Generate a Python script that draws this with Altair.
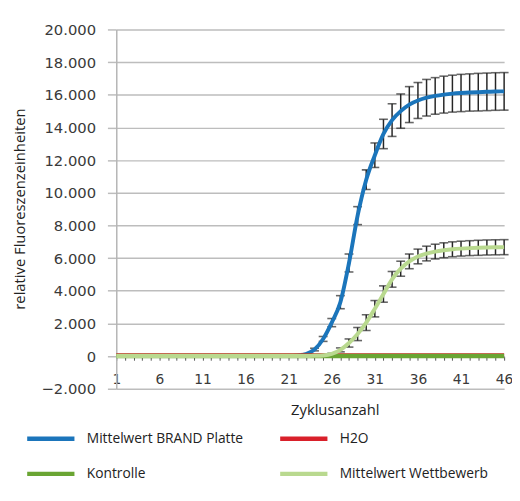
import altair as alt
import pandas as pd

cycles = list(range(1, 47))

brand = [0]*21 + [20, 120, 400, 1050, 2050, 3300, 5700, 8600, 10800, 12300, 13600, 14450, 15000,
                  15400, 15650, 15820, 15930, 16010, 16070, 16110, 16140, 16160, 16180, 16200, 16210]
brand_err = [0]*21 + [0, 30, 80, 150, 250, 400, 550, 550, 600, 750, 900, 1000, 1050,
                      1100, 1100, 1120, 1120, 1130, 1130, 1140, 1140, 1150, 1150, 1150, 1150]

wett = [0]*23 + [15, 40, 130, 380, 800, 1350, 2050, 2900, 3800, 4700, 5350, 5800, 6100, 6280,
                 6400, 6480, 6540, 6580, 6610, 6630, 6650, 6660, 6670]
wett_err = [0]*25 + [40, 120, 250, 400, 480, 500, 500, 480, 460, 450, 450, 450,
                     450, 455, 455, 455, 455, 460, 460, 460, 460]

kontrolle = [0]*46
h2o = [90]*46

series = ["Mittelwert BRAND Platte", "H2O", "Kontrolle", "Mittelwert Wettbewerb"]
colors = ["#1b75bb", "#d9202a", "#6aa533", "#b9d98f"]
widths = [4, 3, 4.5, 4]

rows = []
for name, vals in zip(series, [brand, h2o, kontrolle, wett]):
    for c, v in zip(cycles, vals):
        rows.append({"Zyklus": c, "Wert": v, "Serie": name})
df = pd.DataFrame(rows)

err_rows = []
for vals, errs in [(brand, brand_err), (wett, wett_err)]:
    for c, v, e in zip(cycles, vals, errs):
        if e > 0:
            err_rows.append({"Zyklus": c, "Wert": v - e, "hi": v + e})
edf = pd.DataFrame(err_rows)

color_scale = alt.Scale(domain=series, range=colors)

xscale = alt.Scale(domain=[1, 46], nice=False, zero=False)
yscale = alt.Scale(domain=[-2000, 20000], nice=False)

x_axis = alt.Axis(
    title="Zyklusanzahl", values=cycles,
    labelExpr="(datum.value - 1) % 5 == 0 ? datum.value : ''",
    offset=-33, grid=False, tickSize=4, tickColor="#555555", tickWidth=1,
    domainColor="#b5b5b5", domainWidth=1.5,
    labelPadding=13, labelFontSize=14, labelColor="#3a3a3a", labelFont="DejaVu Sans",
    labelFlush=False, labelOverlap=False, labelBound=False,
    titleFont="Open Sans", titleFontSize=15, titleFontWeight="normal", titleColor="#222222",
    titleX=222, titleY=54, titleBaseline="middle",
)
y_axis = alt.Axis(
    title="relative Fluoreszenzeinheiten", values=list(range(-2000, 20001, 2000)),
    labelExpr="replace(format(datum.value, ',.0f'), ',', '.')",
    grid=True, gridColor="#bdbdbd", gridWidth=1.5,
    domainColor="#b5b5b5", domainWidth=1.5, tickColor="#bdbdbd", tickSize=9, tickWidth=1.5,
    labelPadding=12, labelFontSize=15, labelColor="#3a3a3a", labelFont="DejaVu Sans",
    labelOverlap=False, labelBound=False, labelFlush=False,
    titleFont="Open Sans", titleFontSize=15, titleFontWeight="normal", titleColor="#222222",
    titleX=-98, titleY=182, titleBaseline="middle",
)

X = alt.X("Zyklus:Q", scale=xscale, axis=x_axis)
Y = alt.Y("Wert:Q", scale=yscale, axis=y_axis)

rules = alt.Chart(edf).mark_rule(color="#262626", strokeWidth=1.5).encode(x=X, y=Y, y2="hi:Q")
caps_lo = alt.Chart(edf).mark_tick(color="#262626", orient="horizontal", size=9, thickness=1.6).encode(
    x=X, y=Y)
caps_hi = alt.Chart(edf).mark_tick(color="#262626", orient="horizontal", size=9, thickness=1.6).encode(
    x=X, y=alt.Y("hi:Q", scale=yscale, axis=y_axis))

legend = alt.Legend(
    title=None, orient="none", legendX=-93, legendY=389, direction="horizontal",
    columns=2, columnPadding=27, rowPadding=-8,
    symbolType="stroke", symbolSize=2304, symbolStrokeWidth=4.5,
    labelFont="Open Sans", labelFontSize=14, labelColor="#222222",
    labelOffset=10, labelLimit=300,
)

line_layers = []
for name, w in zip(series, widths):
    line_layers.append(
        alt.Chart(df).transform_filter(alt.datum.Serie == name)
        .mark_line(strokeWidth=w, interpolate="monotone")
        .encode(x=X, y=Y, color=alt.Color("Serie:N", scale=color_scale, sort=series, legend=legend))
    )

chart = alt.layer(rules, caps_lo, caps_hi, *line_layers).properties(
    width=394, height=365,
    padding={"left": 110, "top": 18, "right": 8, "bottom": 95},
    autosize=alt.AutoSizeParams(type="none"),
).configure_view(stroke=None)

chart.save("out.html", embed_options={"renderer": "svg", "actions": False})
